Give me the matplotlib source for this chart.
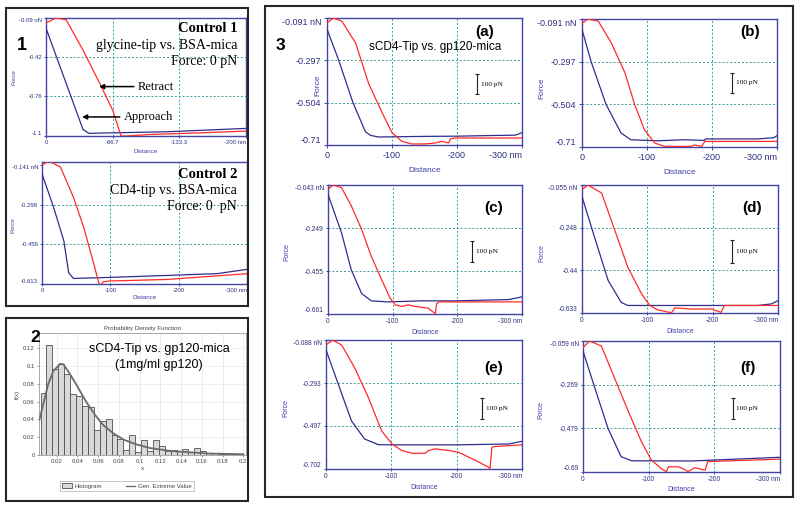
import numpy as np
import matplotlib.pyplot as plt
from matplotlib.patches import Rectangle, Patch
from matplotlib.lines import Line2D

plt.rcParams['font.family'] = ['Liberation Sans', 'DejaVu Sans']
SERIF = 'Liberation Serif'

W, H = 800, 507

# ---------------- data ----------------
X200_TICKS = [0, 66.7, 133.3, 200]
X200_LABELS = ['0', '-66.7', '-133.3', '-200 nm']
X300_TICKS = [0, 100, 200, 300]
X300_LABELS = ['0', '-100', '-200', '-300 nm']

# panel 1, control 1 (glycine-tip vs BSA-mica)
C1_TICKS_Y = [-0.09, -0.42, -0.76, -1.1]
C1_AP_D = [0, 37, 43, 54, 120, 200]
C1_AP_F = [-0.177, -1.044, -1.078, -1.075, -1.064, -1.035]
C1_RE_D = [0, 10, 20, 37, 54, 67, 75, 80, 104, 154, 200]
C1_RE_F = [-0.133, -0.09, -0.104, -0.365, -0.654, -0.885, -1.10, -1.10, -1.087, -1.073, -1.058]

# panel 1, control 2 (CD4-tip vs BSA-mica)
C2_TICKS_Y = [-0.141, -0.298, -0.456, -0.613]
C2_AP_D = [0, 17, 32, 39, 46, 85, 183, 256, 300]
C2_AP_F = [-0.176, -0.309, -0.442, -0.568, -0.591, -0.588, -0.579, -0.572, -0.555]
C2_RE_D = [0, 10, 27, 46, 61, 76, 83, 85, 90, 100, 183, 300]
C2_RE_F = [-0.142, -0.125, -0.149, -0.269, -0.388, -0.535, -0.608, -0.62, -0.604, -0.601, -0.595, -0.572]

# panel 3 (a)-(f): sCD4-tip vs gp120-mica
A_TICKS_Y = [-0.091, -0.297, -0.504, -0.71]
A_AP_D = [0, 18, 40, 59, 67, 79, 150, 200, 250, 290, 300]
A_AP_F = [-0.145, -0.297, -0.504, -0.645, -0.663, -0.671, -0.668, -0.667, -0.664, -0.662, -0.650]
A_RE_D = [0, 10, 23, 44, 64, 85, 100, 115, 131, 150, 167, 177, 187, 190, 197, 250, 300]
A_RE_F = [-0.115, -0.091, -0.107, -0.213, -0.41, -0.554, -0.65, -0.692, -0.705, -0.705,
          -0.70, -0.692, -0.70, -0.68, -0.676, -0.676, -0.676]

B_TICKS_Y = [-0.091, -0.297, -0.504, -0.71]
B_AP_D = [0, 14, 37, 60, 75, 116, 157, 188, 190, 270, 295, 300]
B_AP_F = [-0.141, -0.297, -0.504, -0.642, -0.675, -0.680, -0.675, -0.678, -0.671, -0.671, -0.665, -0.655]
B_RE_D = [0, 9, 25, 45, 66, 81, 96, 112, 127, 168, 173, 184, 189, 300]
B_RE_F = [-0.112, -0.091, -0.101, -0.206, -0.351, -0.504, -0.626, -0.691, -0.707, -0.707,
          -0.700, -0.707, -0.683, -0.683]

C_TICKS_Y = [-0.043, -0.249, -0.455, -0.661]
C_AP_D = [0, 21, 36, 52, 67, 93, 145, 197, 279, 300]
C_AP_F = [-0.088, -0.273, -0.45, -0.563, -0.598, -0.603, -0.598, -0.598, -0.592, -0.579]
C_RE_D = [0, 8, 21, 36, 52, 67, 83, 96, 104, 114, 124, 135, 155, 166, 168, 172, 250, 300]
C_RE_F = [-0.064, -0.043, -0.056, -0.143, -0.256, -0.385, -0.497, -0.585, -0.617, -0.625,
          -0.617, -0.625, -0.633, -0.66, -0.611, -0.603, -0.603, -0.603]

D_TICKS_Y = [-0.055, -0.248, -0.44, -0.633]
D_AP_D = [0, 19, 40, 60, 70, 167, 269, 290, 300]
D_AP_F = [-0.107, -0.289, -0.486, -0.585, -0.599, -0.599, -0.599, -0.592, -0.577]
D_RE_D = [0, 9, 30, 50, 70, 91, 104, 116, 137, 142, 167, 198, 213, 218, 300]
D_RE_F = [-0.076, -0.055, -0.091, -0.258, -0.425, -0.546, -0.599, -0.619, -0.632, -0.61,
          -0.615, -0.615, -0.63, -0.599, -0.599]

E_TICKS_Y = [-0.088, -0.293, -0.497, -0.702]
E_AP_D = [0, 19, 39, 59, 80, 100, 200, 280, 300]
E_AP_F = [-0.135, -0.300, -0.473, -0.559, -0.586, -0.587, -0.587, -0.583, -0.570]
E_RE_D = [0, 10, 24, 44, 65, 85, 101, 116, 131, 152, 157, 167, 188, 203, 218, 234, 249, 251,
          254, 259, 300]
E_RE_F = [-0.112, -0.088, -0.112, -0.221, -0.363, -0.52, -0.583, -0.614, -0.627, -0.627,
          -0.614, -0.606, -0.614, -0.622, -0.645, -0.669, -0.694, -0.700, -0.598, -0.595, -0.587]

F_TICKS_Y = [-0.059, -0.269, -0.479, -0.69]
F_AP_D = [0, 18, 38, 58, 74, 165, 241, 300]
F_AP_F = [-0.107, -0.285, -0.479, -0.616, -0.636, -0.637, -0.627, -0.619]
F_RE_D = [0, 10, 28, 48, 69, 89, 104, 119, 127, 130, 145, 152, 160, 170, 186, 190, 216, 300]
F_RE_F = [-0.091, -0.059, -0.083, -0.237, -0.398, -0.544, -0.632, -0.673, -0.689, -0.665,
          -0.665, -0.673, -0.689, -0.669, -0.681, -0.64, -0.637, -0.628]

SCALE_PN = 100

# panel 2: rupture force histogram + GEV fit
HIST_START = 0.0045
HIST_WIDTH = 0.0057
HIST_HEIGHTS = [0.0695, 0.124, 0.097, 0.102, 0.091, 0.068, 0.066, 0.055, 0.054, 0.028,
                0.038, 0.040, 0.023, 0.018, 0.006, 0.023, 0.003, 0.017, 0.004, 0.017,
                0.010, 0.004, 0.006, 0.004, 0.007, 0.003, 0.008, 0.004, 0.002, 0.002,
                0.001, 0.001, 0.001, 0.001]
GEV_X = [0.0035, 0.0117, 0.0167, 0.0233, 0.0267, 0.0333, 0.040, 0.0483, 0.0567, 0.065,
         0.075, 0.085, 0.098, 0.11, 0.13, 0.164, 0.2]
GEV_Y = [0.040, 0.079, 0.094, 0.1025, 0.1017, 0.090, 0.077, 0.060, 0.0455, 0.0334,
         0.024, 0.0170, 0.0115, 0.0078, 0.0045, 0.0018, 0.0008]
HIST_TICKS_X = [0.02, 0.04, 0.06, 0.08, 0.1, 0.12, 0.14, 0.16, 0.18, 0.2]
HIST_TICKS_Y = [0, 0.02, 0.04, 0.06, 0.08, 0.1, 0.12]

# ---------------- styles ----------------
FRAME = '#4444a8'
AP_COL = '#2e2e90'
RE_COL = '#ff2a2a'
GRID_COL = '#3a9e9e'
TXT = '#2f2f80'

fig = plt.figure(figsize=(W / 100, H / 100), dpi=100)


def fx(x):
    return x / W


def fy(y):
    return 1 - y / H


def px_axes(l, t, r, b):
    return fig.add_axes([l / W, 1 - b / H, (r - l) / W, (b - t) / H])


def afm(box, d_ap, f_ap, d_re, f_re, ticks_y, ticks_x, labels_x, fs, lab_fs,
        force_xy, dist_y, ytop=None):
    ax = px_axes(*box)
    ax.plot(d_ap, f_ap, color=AP_COL, lw=0.9, zorder=3)
    ax.plot(d_re, f_re, color=RE_COL, lw=0.9, zorder=3)
    ax.set_xlim(ticks_x[0], ticks_x[-1])
    ax.set_ylim(ticks_y[-1], ticks_y[0] if ytop is None else ytop)
    for x in ticks_x[1:-1]:
        ax.axvline(x, color=GRID_COL, lw=0.7, ls=(0, (2, 2)), zorder=1)
    for y in ticks_y[1:-1]:
        ax.axhline(y, color=GRID_COL, lw=0.7, ls=(0, (2, 2)), zorder=1)
    ylabels = [f'{t:g}' for t in ticks_y]
    ylabels[0] += ' nN'
    ax.set_xticks(ticks_x, labels_x)
    ax.set_yticks(ticks_y, ylabels)
    ax.tick_params(length=fs * 0.3, width=0.7, color=FRAME, labelsize=fs,
                   labelcolor=TXT, pad=fs * 0.35)
    ax.xaxis.get_major_ticks()[-1].label1.set_ha('right')
    ax.yaxis.get_major_ticks()[0].label1.set_va('top')
    ax.yaxis.get_major_ticks()[-1].label1.set_va('bottom')
    for s in ax.spines.values():
        s.set_color(FRAME)
        s.set_linewidth(1.0)
    ax.text(force_xy[0], force_xy[1], 'Force', transform=ax.transAxes, rotation=90,
            ha='center', va='center', fontsize=lab_fs, color='#4040a8')
    ax.text(0.5, dist_y, 'Distance', transform=ax.transAxes, ha='center', va='center',
            fontsize=lab_fs, color='#4040a8')
    return ax


def scale_bar(ax, x, yc):
    half = SCALE_PN / 1000 / 2
    ax.errorbar([x], [yc], yerr=half, fmt='none', ecolor='#222', elinewidth=0.8,
                capsize=1.6, capthick=0.8, zorder=4)
    ax.annotate(f'{SCALE_PN} pN', (x, yc), xytext=(2.5, 0), textcoords='offset points',
                ha='left', va='center', fontsize=5.3, family=SERIF)


# ---------------- panel 1 ----------------
ax1 = afm((46, 18, 246, 136), C1_AP_D, C1_AP_F, C1_RE_D, C1_RE_F, C1_TICKS_Y,
          X200_TICKS, X200_LABELS, 4.3, 4.5, (-0.16, 0.5), -0.13)
ax1.annotate('Retract', xy=(53, -0.677), xytext=(92, -0.677), va='center', ha='left',
             fontsize=9, family=SERIF,
             arrowprops=dict(arrowstyle='-|>', color='k', lw=1.1, mutation_scale=7,
                             shrinkA=1, shrinkB=0))
ax1.annotate('Approach', xy=(36, -0.937), xytext=(78, -0.937), va='center', ha='left',
             fontsize=9, family=SERIF,
             arrowprops=dict(arrowstyle='-|>', color='k', lw=1.1, mutation_scale=7,
                             shrinkA=1, shrinkB=0))

ax2 = afm((42, 162, 247, 284), C2_AP_D, C2_AP_F, C2_RE_D, C2_RE_F, C2_TICKS_Y,
          X300_TICKS, X300_LABELS, 4.3, 4.5, (-0.14, 0.48), -0.11, ytop=-0.129)

fig.text(fx(237), fy(28), 'Control 1', ha='right', va='center', fontsize=10.5,
         family=SERIF, weight='bold')
fig.text(fx(237), fy(45), 'glycine-tip vs. BSA-mica', ha='right', va='center',
         fontsize=10, family=SERIF)
fig.text(fx(237), fy(62), 'Force: 0 pN', ha='right', va='center', fontsize=10, family=SERIF)
fig.text(fx(237), fy(175), 'Control 2', ha='right', va='center', fontsize=10.5,
         family=SERIF, weight='bold')
fig.text(fx(237), fy(191), 'CD4-tip vs. BSA-mica', ha='right', va='center',
         fontsize=10, family=SERIF)
fig.text(fx(237), fy(206), 'Force: 0  pN', ha='right', va='center', fontsize=10,
         family=SERIF)
fig.text(fx(22), fy(45), '1', ha='center', va='center', fontsize=13, weight='bold')

# ---------------- panel 2 ----------------
axh = px_axes(39, 333, 246, 455)
lefts = HIST_START + HIST_WIDTH * np.arange(len(HIST_HEIGHTS))
axh.bar(lefts, HIST_HEIGHTS, width=HIST_WIDTH, align='edge', color='#d9d9d9',
        edgecolor='#505050', lw=0.6, zorder=2)
axh.plot(GEV_X, GEV_Y, color='#6b6b6b', lw=1.3, zorder=3)
axh.set_xlim(0.003, 0.2025)
axh.set_ylim(0, 0.137)
axh.set_xticks(HIST_TICKS_X, [f'{t:g}' for t in HIST_TICKS_X])
axh.set_yticks(HIST_TICKS_Y, [f'{t:g}' for t in HIST_TICKS_Y])
axh.tick_params(length=1.5, width=0.5, color='#777', labelsize=4.3, labelcolor='#444', pad=1.5)
axh.grid(color='#e8e8e8', lw=0.5, zorder=0)
for s in axh.spines.values():
    s.set_color('#9a9a9a')
    s.set_linewidth(0.6)
axh.set_title('Probability Density Function', fontsize=4.5, color='#444', pad=2)
axh.set_xlabel('x', fontsize=4.5, color='#444', labelpad=1)
axh.set_ylabel('f(x)', fontsize=4.5, color='#444', labelpad=2)
handles = [Patch(facecolor='#d9d9d9', edgecolor='#505050', lw=0.6),
           Line2D([], [], color='#6b6b6b', lw=1.0)]
leg = fig.legend(handles, ['Histogram', 'Gen. Extreme Value'], loc='center',
                 bbox_to_anchor=(fx(127), fy(486)), ncol=2, fontsize=4.3, frameon=True,
                 fancybox=False, edgecolor='#9a9a9a', handlelength=1.6, handleheight=0.9,
                 borderpad=0.35, columnspacing=4.0, handletextpad=0.4)
leg.get_frame().set_linewidth(0.5)
for t in leg.get_texts():
    t.set_color('#444')
fig.text(fx(35), fy(337), '2', ha='center', va='center', fontsize=12.5, weight='bold')
fig.text(fx(159), fy(349), 'sCD4-Tip vs. gp120-mica', ha='center', va='center', fontsize=9)
fig.text(fx(159), fy(365), '(1mg/ml gp120)', ha='center', va='center', fontsize=9)

# ---------------- panel 3 ----------------
axa = afm((327, 18, 522, 145), A_AP_D, A_AP_F, A_RE_D, A_RE_F, A_TICKS_Y,
          X300_TICKS, X300_LABELS, 6.5, 6.0, (-0.046, 0.47), -0.197)
axb = afm((582, 19, 777, 147), B_AP_D, B_AP_F, B_RE_D, B_RE_F, B_TICKS_Y,
          X300_TICKS, X300_LABELS, 6.5, 6.0, (-0.205, 0.46), -0.203)
axc = afm((328, 185, 522, 314), C_AP_D, C_AP_F, C_RE_D, C_RE_F, C_TICKS_Y,
          X300_TICKS, X300_LABELS, 4.8, 5.0, (-0.21, 0.48), -0.14)
axd = afm((582, 185, 778, 313), D_AP_D, D_AP_F, D_RE_D, D_RE_F, D_TICKS_Y,
          X300_TICKS, X300_LABELS, 4.8, 5.0, (-0.204, 0.47), -0.148)
axe = afm((326, 340, 522, 469), E_AP_D, E_AP_F, E_RE_D, E_RE_F, E_TICKS_Y,
          X300_TICKS, X300_LABELS, 4.8, 5.0, (-0.204, 0.47), -0.147)
axf = afm((583, 341, 780, 472), F_AP_D, F_AP_F, F_RE_D, F_RE_F, F_TICKS_Y,
          X300_TICKS, X300_LABELS, 4.8, 5.0, (-0.213, 0.47), -0.13)

scale_bar(axa, 231, -0.413)
scale_bar(axb, 231, -0.40)
scale_bar(axc, 223, -0.362)
scale_bar(axd, 230, -0.355)
scale_bar(axe, 239, -0.416)
scale_bar(axf, 228, -0.384)

for lab, (x, y) in zip(['(a)', '(b)', '(c)', '(d)', '(e)', '(f)'],
                       [(485, 32), (750, 32), (494, 208), (752, 208), (494, 368), (748, 368)]):
    fig.text(fx(x), fy(y), lab, ha='center', va='center', fontsize=11, weight='bold')
fig.text(fx(280), fy(45), '3', ha='center', va='center', fontsize=12.5, weight='bold')
fig.text(fx(435), fy(47), 'sCD4-Tip vs. gp120-mica', ha='center', va='center', fontsize=8.5)

# ---------------- panel frames ----------------
for l, t, r, b in [(6, 8, 248, 306), (6, 318, 248, 501), (265, 6, 793, 497)]:
    fig.patches.append(Rectangle((fx(l), fy(b)), (r - l) / W, (b - t) / H,
                                 transform=fig.transFigure, fill=False,
                                 edgecolor='#262626', lw=1.5))

fig.savefig('out.png', dpi=100)
